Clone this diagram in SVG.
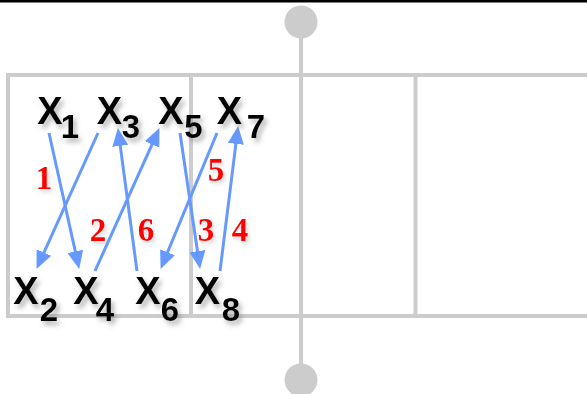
<svg xmlns="http://www.w3.org/2000/svg" width="587" height="394" viewBox="0 0 587 394">
<style>
.frame{stroke:#cccccc;stroke-width:4;fill:none}
.pin{fill:#cccccc}
.arr{stroke:#6699ff;stroke-width:3;fill:none;marker-end:url(#ah)}
.x{font-family:"Liberation Sans",Arial,sans-serif;font-weight:bold;font-size:38px;fill:#000;text-anchor:middle;filter:url(#sh)}
.s{font-family:"Liberation Sans",Arial,sans-serif;font-weight:bold;font-size:33px;fill:#000;text-anchor:middle;filter:url(#sh)}
.n{font-family:"Liberation Serif","Times New Roman",serif;font-weight:bold;font-size:33px;fill:#ff0000;text-anchor:middle;filter:url(#sh2)}
</style>
<defs>
<marker id="ah" viewBox="0 0 18 16" refX="5" refY="8" markerWidth="18" markerHeight="16" markerUnits="userSpaceOnUse" orient="auto">
<path d="M0,0 L18,8 L0,16 z" fill="#6699ff"/>
</marker>
<filter id="sh" x="-30%" y="-30%" width="170%" height="170%">
<feDropShadow dx="3" dy="4" stdDeviation="2.5" flood-color="#777" flood-opacity="0.55"/>
</filter>
<filter id="sh2" x="-30%" y="-30%" width="170%" height="170%">
<feDropShadow dx="2" dy="3" stdDeviation="2" flood-color="#888" flood-opacity="0.35"/>
</filter>
</defs>
<rect x="0" y="0" width="587" height="2.5" fill="#000"/>
<g id="frame">
<line class="frame" x1="6" y1="75" x2="587" y2="75"/>
<line class="frame" x1="6" y1="316" x2="587" y2="316"/>
<line class="frame" x1="8" y1="75" x2="8" y2="316"/>
<line class="frame" x1="191" y1="75" x2="191" y2="316"/>
<line class="frame" x1="415.5" y1="75" x2="415.5" y2="316"/>
</g>
<g id="pin">
<line class="frame" x1="301" y1="22" x2="301" y2="380"/>
<circle class="pin" cx="301" cy="22" r="16.5"/>
<circle class="pin" cx="301" cy="380" r="16.5"/>
</g>
<g id="connectors">
<line class="arr" x1="49" y1="133" x2="76.4" y2="256.3"/>
<line class="arr" x1="98" y1="133" x2="41.9" y2="257.1"/>
<line class="arr" x1="95" y1="271" x2="154.1" y2="139.9"/>
<line class="arr" x1="137" y1="271" x2="119.6" y2="140.9"/>
<line class="arr" x1="180" y1="133" x2="198.2" y2="256.1"/>
<line class="arr" x1="217" y1="133" x2="165.6" y2="256.9"/>
<line class="arr" x1="220" y1="271" x2="236.5" y2="138.9"/>
</g>
<g id="x1"><text class="x" x="50" y="124">X</text><text class="s" x="70" y="138">1</text></g>
<g id="x3"><text class="x" x="109.5" y="124">X</text><text class="s" x="131" y="138">3</text></g>
<g id="x5"><text class="x" x="171" y="124">X</text><text class="s" x="193.5" y="138">5</text></g>
<g id="x7"><text class="x" x="229.5" y="124">X</text><text class="s" x="256" y="138">7</text></g>
<g id="x2"><text class="x" x="26" y="304">X</text><text class="s" x="49" y="321">2</text></g>
<g id="x4"><text class="x" x="86" y="304">X</text><text class="s" x="105" y="321">4</text></g>
<g id="x6"><text class="x" x="148" y="304">X</text><text class="s" x="170" y="321">6</text></g>
<g id="x8"><text class="x" x="207.5" y="304">X</text><text class="s" x="231" y="321">8</text></g>
<g id="labels">
<text class="n" x="44" y="189">1</text>
<text class="n" x="216" y="181">5</text>
<text class="n" x="98" y="241">2</text>
<text class="n" x="146" y="241">6</text>
<text class="n" x="206" y="241">3</text>
<text class="n" x="240" y="241">4</text>
</g>
</svg>
